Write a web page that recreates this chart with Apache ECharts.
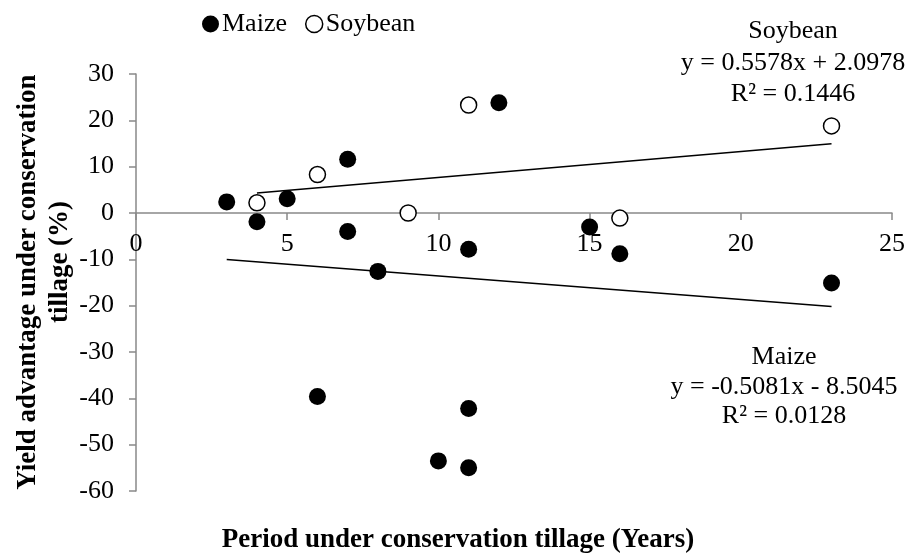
<!DOCTYPE html>
<html>
<head>
<meta charset="utf-8">
<script src="https://cdn.jsdelivr.net/npm/echarts@6/dist/echarts.min.js"></script>
<style>
html,body{margin:0;padding:0;background:#fff;}
#chart{width:914px;height:555px;}
</style>
</head>
<body>
<div id="chart"></div>
<script>
// ---- data ----
const maizePoints = [[3,2.4],[4,-1.9],[5,3.1],[6,-39.6],[7,11.6],[7,-4],[8,-12.6],[10,-53.5],[11,-7.8],[11,-42.2],[11,-55],[12,23.8],[15,-3],[16,-8.8],[23,-15.1]];
const soybeanPoints = [[4,2.2],[6,8.3],[9,0],[11,23.3],[16,-1.1],[23,18.8]];
const maizeTrend = [[3,-10.03],[23,-20.19]];
const soybeanTrend = [[4,4.33],[23,14.93]];
const seriesNames = ['Maize','Soybean'];
const xTicks = {min:0, max:25, interval:5};
const yTicks = {min:-60, max:30, interval:10};
const soybeanEq = ['Soybean','y = 0.5578x + 2.0978','R² = 0.1446'];
const maizeEq = ['Maize','y = -0.5081x - 8.5045','R² = 0.0128'];
const xTitle = 'Period under conservation tillage (Years)';
const yTitle = ['Yield advantage under conservation','tillage (%)'];

const FONT = "'Liberation Serif','Times New Roman',serif";
const chart = echarts.init(document.getElementById('chart'), null, {renderer:'canvas'});
const axisGray = '#898989';

// grid geometry
const gridTop = 74, gridBottom = 64, H = 555;
const plotH = H - gridTop - gridBottom;
// shift the x axis up so it sits on y = 0 (labels move with it)
const zeroOffset = -plotH * (0 - yTicks.min) / (yTicks.max - yTicks.min);

const option = {
  animation:false,
  backgroundColor:'#fff',
  textStyle:{fontFamily:FONT, color:'#000'},
  grid:{left:136, right:22, top:gridTop, bottom:gridBottom, containLabel:false},
  legend:{
    data:[
      {name:seriesNames[0], icon:'circle', itemStyle:{color:'#000'}},
      {name:seriesNames[1], icon:'circle', itemStyle:{color:'#fff', borderColor:'#000', borderWidth:1.5}}
    ],
    left:197, top:6, itemWidth:17, itemHeight:17, itemGap:18,
    textStyle:{fontFamily:FONT, fontSize:26, color:'#000', padding:[0,0,0,-2]}
  },
  xAxis:{
    type:'value', min:xTicks.min, max:xTicks.max, interval:xTicks.interval,
    position:'bottom', offset:zeroOffset,
    axisLine:{show:true, onZero:false, lineStyle:{color:axisGray, width:1.5}},
    axisTick:{show:true, inside:false, length:7, lineStyle:{color:axisGray, width:1.5}},
    axisLabel:{fontFamily:FONT, fontSize:26, color:'#000', margin:18},
    splitLine:{show:false}
  },
  yAxis:{
    type:'value', min:yTicks.min, max:yTicks.max, interval:yTicks.interval,
    axisLine:{show:true, onZero:false, lineStyle:{color:axisGray, width:1.5}},
    axisTick:{show:true, inside:false, length:7, lineStyle:{color:axisGray, width:1.5}},
    axisLabel:{fontFamily:FONT, fontSize:26, color:'#000', margin:22},
    splitLine:{show:false}
  },
  series:[
    {name:'MaizeTrend', type:'line', data:maizeTrend, symbol:'none', silent:true,
     lineStyle:{color:'#000', width:1.5}, z:1},
    {name:'SoybeanTrend', type:'line', data:soybeanTrend, symbol:'none', silent:true,
     lineStyle:{color:'#000', width:1.5}, z:1},
    {name:seriesNames[0], type:'scatter', data:maizePoints, symbol:'circle', symbolSize:17,
     itemStyle:{color:'#000', opacity:1}, z:3},
    {name:seriesNames[1], type:'scatter', data:soybeanPoints, symbol:'circle', symbolSize:16,
     itemStyle:{color:'#fff', borderColor:'#000', borderWidth:1.5, opacity:1}, z:3}
  ],
  graphic:[
    {type:'text', x:793, y:31, style:{text:soybeanEq[0], fontFamily:FONT, fontSize:26, fill:'#000', align:'center', verticalAlign:'middle'}},
    {type:'text', x:793, y:63, style:{text:soybeanEq[1], fontFamily:FONT, fontSize:26, fill:'#000', align:'center', verticalAlign:'middle'}},
    {type:'text', x:793, y:94, style:{text:soybeanEq[2], fontFamily:FONT, fontSize:26, fill:'#000', align:'center', verticalAlign:'middle'}},
    {type:'text', x:784, y:357, style:{text:maizeEq[0], fontFamily:FONT, fontSize:26, fill:'#000', align:'center', verticalAlign:'middle'}},
    {type:'text', x:784, y:387, style:{text:maizeEq[1], fontFamily:FONT, fontSize:26, fill:'#000', align:'center', verticalAlign:'middle'}},
    {type:'text', x:784, y:416, style:{text:maizeEq[2], fontFamily:FONT, fontSize:26, fill:'#000', align:'center', verticalAlign:'middle'}},
    {type:'text', x:458, y:540, style:{text:xTitle, fontFamily:FONT, fontSize:27, fontWeight:'bold', fill:'#000', align:'center', verticalAlign:'middle'}},
    {type:'text', x:28, y:282, rotation:Math.PI/2, style:{text:yTitle[0], fontFamily:FONT, fontSize:27, fontWeight:'bold', fill:'#000', align:'center', verticalAlign:'middle'}},
    {type:'text', x:60, y:262, rotation:Math.PI/2, style:{text:yTitle[1], fontFamily:FONT, fontSize:27, fontWeight:'bold', fill:'#000', align:'center', verticalAlign:'middle'}}
  ]
};
chart.setOption(option);
</script>
</body>
</html>
